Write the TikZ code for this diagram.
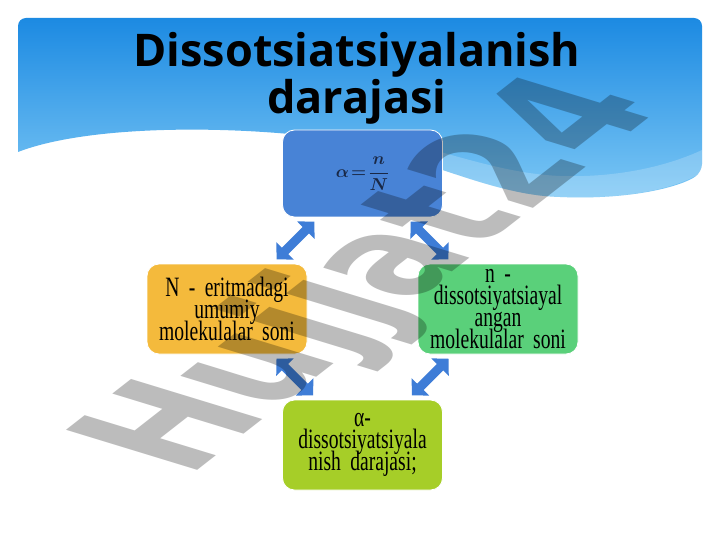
\documentclass[tikz,border=0pt]{standalone}
\usepackage{amsmath}
\usepackage{fontspec}
\setmainfont{Liberation Serif}
\newfontfamily\titlefont{Open Sans}
\newfontfamily\markfont{DejaVu Sans}
\newfontfamily\boxfont{Liberation Serif}[FakeStretch=0.7]
\usetikzlibrary{arrows.meta}

\definecolor{skytop}{RGB}{28,138,226}
\definecolor{skybottom}{RGB}{125,200,245}
\definecolor{alphablue}{RGB}{72,131,214}
\definecolor{navy}{RGB}{25,40,70}
\definecolor{goldbox}{RGB}{244,186,60}
\definecolor{greenbox}{RGB}{90,208,122}
\definecolor{limebox}{RGB}{166,206,40}
\definecolor{arrowblue}{RGB}{62,125,215}
\definecolor{markgray}{RGB}{188,188,188}

\newcommand{\degreeformula}{$\boldsymbol{\alpha\mskip-3mu=\mskip-3mu\dfrac{n}{N}}$}

\begin{document}
\begin{tikzpicture}[x=1pt,y=-1pt,
    box/.style={rounded corners=12pt, minimum width=160pt, minimum height=90pt,
      text width=150pt, align=center, inner sep=0pt, draw=white, line width=0.8pt,
      font={\boxfont\fontsize{28}{22}\selectfont\lineskiplimit=-30pt\spaceskip=3.5pt}},
    formula/.style={font={\fontsize{19}{22}\selectfont}},
    link/.style={draw=arrowblue, line width=9pt,
      {Triangle[width=24pt,length=12pt]}-{Triangle[width=24pt,length=12pt]},
      shorten <=6pt, shorten >=6pt},
    heading/.style={font=\titlefont\bfseries\fontsize{45}{47}\selectfont, anchor=base}]
    \useasboundingbox (0,0) rectangle (720,540);
    \fill[white] (0,0) rectangle (720,540);

    % sky header with the wave
    \shade[top color=skytop, bottom color=skybottom]
      (18,152) [rounded corners=8pt] -- (18,18) -- (702,18) -- (702,172) [sharp corners]
      .. controls (680,187) and (630,200) .. (560,197)
      .. controls (480,195) and (400,143) .. (300,135)
      .. controls (200,125) and (80,128) .. (18,152) -- cycle;
    \fill[white, opacity=0.2]
      (300,135) .. controls (400,143) and (480,195) .. (560,197)
      .. controls (630,200) and (680,187) .. (702,172) -- (702,150)
      .. controls (670,165) and (620,178) .. (560,176)
      .. controls (470,172) and (400,125) .. (300,135) -- cycle;

    \node[heading] (title) at (357,67) {Dissotsiatsiyalanish};
    \node[heading] (title2) at ([yshift=-47pt]title.base) {darajasi};

    \node[box, formula, fill=alphablue, minimum height=87pt, text=navy] (alpha) at (362.5,173.5) {\degreeformula};
    \node[box, fill=goldbox] (bigN) at (227,309) {N - eritmadagi\\ umumiy\\ molekulalar soni};
    \node[box, fill=greenbox] (smalln) at (498,309) {n -\\ dissotsiyatsiayal\\ angan\\ molekulalar soni};
    \node[box, fill=limebox] (degree) at (362.5,445) {α-\\ dissotsiyatsiyala\\ nish darajasi;};

    \draw[link] (alpha) -- (bigN);
    \draw[link] (alpha) -- (smalln);
    \draw[link] (bigN) -- (degree);
    \draw[link] (smalln) -- (degree);

    % watermark
    \begin{scope}[shift={(426,292)}, cm={0.996,0.778,-1.80,0.55,(0,0)}, blend mode=multiply]
      \node[transform shape, anchor=base, text=markgray,
        font=\markfont\bfseries\fontsize{100}{100}\selectfont] (mark) at (0,0) {Hujjat24};
    \end{scope}
  \end{tikzpicture}
\end{document}
